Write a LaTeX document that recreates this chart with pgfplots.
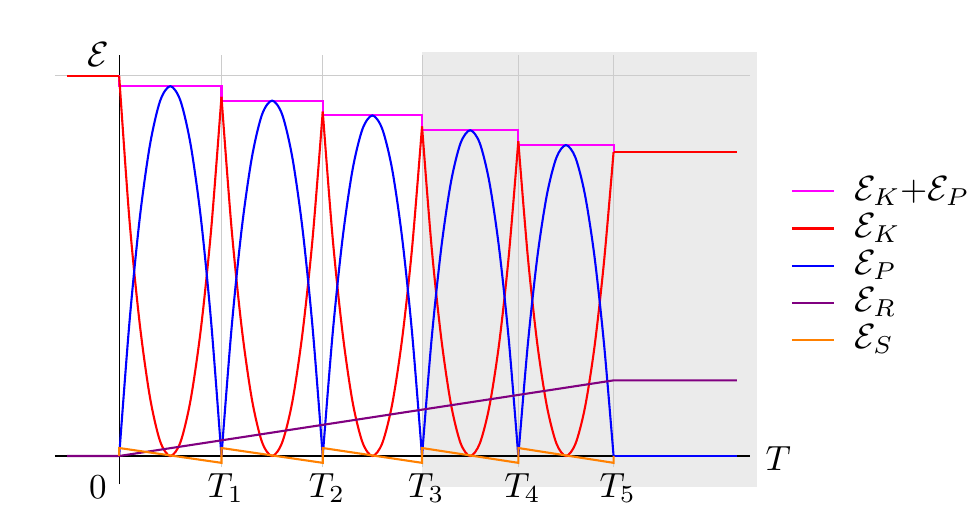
\documentclass[border=0pt]{standalone}
\usepackage{pgfplots}
\pgfplotsset{compat=1.18}
\definecolor{cMag}{RGB}{255,0,255}
\definecolor{cRed}{RGB}{255,0,0}
\definecolor{cBlue}{RGB}{0,0,255}
\definecolor{cPur}{RGB}{128,0,128}
\definecolor{cOra}{RGB}{255,128,0}
\begin{document}
\begin{tikzpicture}
\begin{axis}[
  set layers=standard,
  scale only axis,
  width=198.57pt, height=122.57pt,
  xmin=-64, xmax=629, ymin=-0.0737, ymax=1.055,
  axis lines=middle,
  axis line style={-, black, line width=0.3pt},
  every inner x axis line/.append style={-},
  every inner y axis line/.append style={-},
  xtick={102,203,302,398,493},
  xticklabels={$T_1$,$T_2$,$T_3$,$T_4$,$T_5$},
  ytick=\empty,
  major tick length=0pt,
  xticklabel style={anchor=north, yshift=-1.4pt, xshift=1.2pt},
  clip=false,
  legend style={draw=none, fill=none, at={(1.0576,0.509)}, anchor=west, inner sep=0pt, row sep=0pt,
    column sep=5pt,
    nodes={inner sep=0.8pt, text height=7pt, text depth=2pt}},
  legend cell align=left,
  legend image code/.code={\draw[#1] (0cm,0cm) -- (0.42cm,0cm);},
  every axis plot/.append style={semithick},
]
\begin{pgfonlayer}{axis background}
\fill[black!8] (axis cs:302,-0.0807) rectangle (axis cs:636,1.063);
\end{pgfonlayer}
\draw[black!20, line width=0.3pt] (axis cs:-64,1) -- (axis cs:629,1);
\foreach \t in {102,203,302,398,493} {
  \edef\temp{\noexpand\draw[black!20, line width=0.3pt] (axis cs:\t,-0.029) -- (axis cs:\t,1.055);}
  \temp
}
% E_K + E_P
\addplot[cMag] table {
x y
-52 1
0 1
0 0.973
102 0.973
102 0.935
203 0.935
203 0.896
302 0.896
302 0.857
398 0.857
398 0.818
493 0.818
493 0.8
616 0.8
};
\addlegendentry{$\mathcal{E}_K$+$\mathcal{E}_P$}
% E_K
\addplot[cRed] table {
x y
-52 1
0 1
};
\addlegendentry{$\mathcal{E}_K$}
\addplot[cRed, smooth, forget plot] table {
x y
0 1.0
10.2 0.623
20.4 0.350
30.6 0.156
40.8 0.039
51 0
61.2 0.037
71.4 0.150
81.6 0.337
91.8 0.598
102 0.945
};
\addplot[cRed, smooth, forget plot] table {
x y
102 0.945
112.1 0.598
122.2 0.337
132.3 0.150
142.4 0.037
152.5 0
162.6 0.036
172.7 0.143
182.8 0.323
192.9 0.573
203 0.906
};
\addplot[cRed, smooth, forget plot] table {
x y
203 0.906
212.9 0.573
222.8 0.323
232.7 0.143
242.6 0.036
252.5 0
262.4 0.034
272.3 0.137
282.2 0.309
292.1 0.548
302 0.867
};
\addplot[cRed, smooth, forget plot] table {
x y
302 0.867
311.6 0.548
321.2 0.309
330.8 0.137
340.4 0.034
350 0
359.6 0.033
369.2 0.131
378.8 0.294
388.4 0.524
398 0.828
};
\addplot[cRed, smooth, forget plot] table {
x y
398 0.828
407.5 0.524
417 0.294
426.5 0.131
436 0.033
445.5 0
455 0.032
464.5 0.128
474 0.288
483.5 0.512
493 0.8
};
\addplot[cRed, forget plot] table {
x y
493 0.8
616 0.8
};
% E_P
\addplot[cBlue, smooth] table {
x y
0 0
10.2 0.350
20.4 0.623
30.6 0.817
40.8 0.934
51 0.973
61.2 0.934
71.4 0.817
81.6 0.623
91.8 0.350
102 0
};
\addlegendentry{$\mathcal{E}_P$}
\addplot[cBlue, smooth, forget plot] table {
x y
102 0
112.1 0.337
122.2 0.598
132.3 0.785
142.4 0.898
152.5 0.935
162.6 0.898
172.7 0.785
182.8 0.598
192.9 0.337
203 0
};
\addplot[cBlue, smooth, forget plot] table {
x y
203 0
212.9 0.323
222.8 0.573
232.7 0.753
242.6 0.860
252.5 0.896
262.4 0.860
272.3 0.753
282.2 0.573
292.1 0.323
302 0
};
\addplot[cBlue, smooth, forget plot] table {
x y
302 0
311.6 0.309
321.2 0.548
330.8 0.720
340.4 0.823
350 0.857
359.6 0.823
369.2 0.720
378.8 0.548
388.4 0.309
398 0
};
\addplot[cBlue, smooth, forget plot] table {
x y
398 0
407.5 0.294
417 0.524
426.5 0.687
436 0.785
445.5 0.818
455 0.785
464.5 0.687
474 0.524
483.5 0.294
493 0
};
\addplot[cBlue, forget plot] table {
x y
493 0
616 0
};
% E_R
\addplot[cPur] table {
x y
-52 0
0 0
493 0.199
616 0.199
};
\addlegendentry{$\mathcal{E}_R$}
% E_S
\addplot[cOra] table {
x y
0 0
0 0.021
102 -0.018
102 0.021
203 -0.018
203 0.021
302 -0.018
302 0.021
398 -0.018
398 0.021
493 -0.018
493 0
};
\addlegendentry{$\mathcal{E}_S$}
\node[anchor=east, inner sep=0pt, xshift=-2.6pt] at (axis cs:0,1.055) {$\mathcal{E}$};
\node[anchor=west, inner sep=0pt, xshift=4.3pt, yshift=-0.7pt] at (axis cs:629,0) {$T$};
\node[anchor=north east, inner sep=0pt, xshift=-3.4pt, yshift=-5.4pt] at (axis cs:0,0) {$0$};
\end{axis}
\path (current axis.south west) ++(-15.71pt,-11.14pt) rectangle ++(278.57pt,149.43pt);
\end{tikzpicture}
\end{document}
